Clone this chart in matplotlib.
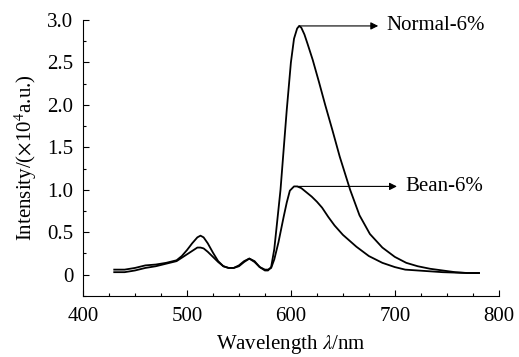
import matplotlib.pyplot as plt
from matplotlib.ticker import MultipleLocator

plt.rcParams['font.family'] = ['Liberation Serif', 'DejaVu Serif']
plt.rcParams['mathtext.fontset'] = 'stix'

# Normal-6% spectrum
wl_normal = [430, 440, 450, 460, 470, 480, 490, 495, 500, 505, 510, 513, 516, 520,
             525, 530, 535, 540, 545, 550, 555, 560, 565, 570, 575, 578, 581, 584,
             587, 590, 593, 596, 600, 603, 606, 608, 610, 613, 616, 621, 627, 633,
             640, 647, 657, 666, 676, 688, 700, 711, 722, 734, 746, 758, 770, 781]
int_normal = [0.06, 0.06, 0.08, 0.11, 0.12, 0.14, 0.17, 0.22, 0.29, 0.37, 0.44, 0.46,
              0.44, 0.37, 0.26, 0.16, 0.10, 0.08, 0.08, 0.11, 0.16, 0.19, 0.16, 0.09,
              0.05, 0.05, 0.09, 0.30, 0.65, 1.00, 1.47, 1.94, 2.50, 2.78, 2.90, 2.93,
              2.91, 2.83, 2.72, 2.53, 2.27, 2.00, 1.70, 1.39, 1.00, 0.70, 0.48, 0.32,
              0.21, 0.14, 0.10, 0.07, 0.05, 0.03, 0.02, 0.02]

# Bean-6% spectrum
wl_bean = [430, 440, 450, 460, 470, 480, 490, 495, 500, 505, 510, 513, 516, 520,
           525, 530, 535, 540, 545, 550, 555, 560, 565, 570, 575, 578, 581, 584,
           588, 593, 596, 599, 603, 606, 610, 615, 620, 625, 630, 636, 642, 650,
           663, 675, 688, 700, 710, 722, 734, 746, 758, 770, 781]
int_bean = [0.03, 0.03, 0.05, 0.08, 0.10, 0.13, 0.16, 0.20, 0.24, 0.28, 0.32, 0.32,
            0.31, 0.27, 0.21, 0.15, 0.10, 0.08, 0.08, 0.10, 0.15, 0.19, 0.15, 0.09,
            0.06, 0.06, 0.08, 0.18, 0.38, 0.68, 0.85, 0.99, 1.04, 1.04, 1.02, 0.97,
            0.92, 0.86, 0.79, 0.68, 0.58, 0.47, 0.33, 0.22, 0.14, 0.09, 0.06, 0.05,
            0.04, 0.03, 0.025, 0.02, 0.02]

fig = plt.figure(figsize=(5.19, 3.57), dpi=100)
ax = fig.add_axes([0.16, 0.171, 0.801, 0.773])

ax.plot(wl_normal, int_normal, color='black', lw=1.3)
ax.plot(wl_bean, int_bean, color='black', lw=1.3)

ax.set_xlim(400, 800)
ax.set_ylim(-0.25, 3.0)
ax.spines['top'].set_visible(False)
ax.spines['right'].set_visible(False)
ax.xaxis.set_major_locator(MultipleLocator(100))
ax.xaxis.set_minor_locator(MultipleLocator(25))
ax.yaxis.set_minor_locator(MultipleLocator(0.25))
ax.set_yticks([0, 0.5, 1.0, 1.5, 2.0, 2.5, 3.0])
ax.set_yticklabels(['0', '0.5', '1.0', '1.5', '2.0', '2.5', '3.0'])
ax.tick_params(which='both', direction='in', labelsize=15, width=0.8)
ax.tick_params(which='major', length=4)
ax.tick_params(which='minor', length=2.5)
ax.tick_params(axis='y', pad=7)
ax.tick_params(axis='x', pad=8)

ax.set_xlabel(r'Wavelength $\lambda$/nm', fontsize=15, labelpad=5)
ax.set_ylabel(r'Intensity/($\times$10$^4$a.u.)', fontsize=15, labelpad=6)

arrow = dict(arrowstyle='-|>', color='black', lw=0.8, mutation_scale=11,
             shrinkA=0, shrinkB=0)
ax.annotate('', xy=(684, 2.93), xytext=(608, 2.93), arrowprops=arrow)
ax.text(692, 2.93, 'Normal-6%', fontsize=15, va='center')
ax.annotate('', xy=(702, 1.04), xytext=(606, 1.04), arrowprops=arrow)
ax.text(710, 1.04, 'Bean-6%', fontsize=15, va='center')

plt.savefig('out.png', dpi=100)
